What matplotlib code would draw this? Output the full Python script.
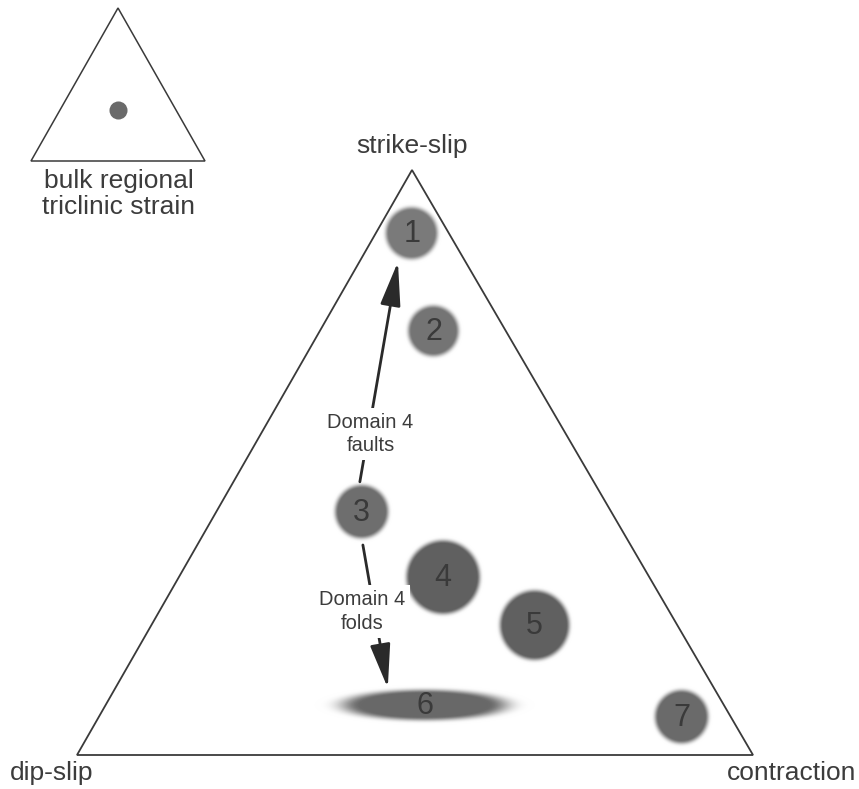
import numpy as np
import matplotlib
matplotlib.use("Agg")
import matplotlib.pyplot as plt
from matplotlib.patches import Polygon, FancyArrowPatch

# ---------------- data (ternary fractions: strike-slip, contraction; dip-slip = rest)
corner_labels = ["strike-slip", "dip-slip", "contraction"]
domain_names = ["1", "2", "3", "4", "5", "6", "7"]
domain_strike = [0.892, 0.725, 0.416, 0.304, 0.222, 0.0855, 0.0655]
domain_contr = [0.053, 0.168, 0.215, 0.391, 0.567, 0.472, 0.862]
# spread of each field (semi-axes, fraction of triangle side)
domain_spread_x = [0.040, 0.039, 0.041, 0.056, 0.053, 0.130, 0.041]
domain_spread_y = [0.040, 0.039, 0.041, 0.056, 0.053, 0.024, 0.041]
domain_shade = ["#7a7a7a", "#747474", "#6e6e6e", "#606060", "#606060", "#686868", "#6a6a6a"]

arrow_labels = ["Domain 4\nfaults", "Domain 4\nfolds"]
arrow_start_strike = [0.467, 0.359]
arrow_start_contr = [0.187, 0.245]
arrow_end_strike = [0.843, 0.1145]
arrow_end_contr = [0.057, 0.403]
label_strike = [0.549, 0.245]
label_contr = [0.162, 0.300]

bulk_title = "bulk regional\ntriclinic strain"
bulk_strike = [1 / 3]
bulk_contr = [1 / 3]

# ---------------- layout
W, H = 859, 789
big_tri = dict(left=(77, 755), right=(753, 755), top=(412, 170))
small_tri = dict(left=(31, 161), right=(205, 161), top=(118, 8))


def tern(tri, s, c):
    s = np.asarray(s, float)
    c = np.asarray(c, float)
    d = 1 - s - c
    L, R, T = np.array(tri["left"]), np.array(tri["right"]), np.array(tri["top"])
    x = d * L[0] + c * R[0] + s * T[0]
    y = d * L[1] + c * R[1] + s * T[1]
    return x, y


fig = plt.figure(figsize=(W / 100, H / 100), dpi=100)
ax = fig.add_axes([0, 0, 1, 1])
ax.set_xlim(0, W)
ax.set_ylim(H, 0)
ax.axis("off")

line_col = "#3a3a3a"
text_col = "#3c3c3c"
font = "Liberation Sans"

# triangles
for tri, lw in ((big_tri, 1.3), (small_tri, 1.1)):
    ax.add_patch(Polygon([tri["left"], tri["right"], tri["top"]], closed=True,
                         fill=False, ec=line_col, lw=lw, joinstyle="miter", zorder=2))

# soft blobs rendered as an image
side = big_tri["right"][0] - big_tri["left"][0]
xs = np.arange(W) + 0.5
ys = np.arange(H) + 0.5
X, Y = np.meshgrid(xs, ys)
rgb = np.ones((H, W, 3))
alpha_tot = np.zeros((H, W))
cx, cy = tern(big_tri, domain_strike, domain_contr)
for i in range(len(domain_names)):
    a = domain_spread_x[i] * side
    b = domain_spread_y[i] * side
    d = np.sqrt(((X - cx[i]) / a) ** 2 + ((Y - cy[i]) / b) ** 2)
    edge = (1 - d) * min(a, b)  # approx distance to edge in px
    blur = 9.0
    al = np.clip(edge / blur + 0.5, 0, 1)
    al = al * al * (3 - 2 * al)
    col = np.array(matplotlib.colors.to_rgb(domain_shade[i]))
    rgb = rgb * (1 - al[..., None]) + col * al[..., None]
    alpha_tot = alpha_tot + al * (1 - alpha_tot)
img = np.dstack([rgb, alpha_tot])
ax.imshow(img, extent=(0, W, H, 0), origin="upper", interpolation="bilinear", zorder=3)

for i, name in enumerate(domain_names):
    ax.text(cx[i], cy[i] + 1, name, ha="center", va="center", fontsize=22,
            color="#3a3a3a", family=font, zorder=4)

# bulk strain dot
bx, by = tern(small_tri, bulk_strike, bulk_contr)
ax.plot(bx, by, "o", ms=13, color="#6a6a6a", mec="none", zorder=4)

# arrows
sx, sy = tern(big_tri, arrow_start_strike, arrow_start_contr)
ex, ey = tern(big_tri, arrow_end_strike, arrow_end_contr)
lx, ly = tern(big_tri, label_strike, label_contr)
for i in range(len(arrow_labels)):
    arr = FancyArrowPatch((sx[i], sy[i]), (ex[i], ey[i]),
                          arrowstyle="-|>,head_length=2.7,head_width=0.62",
                          mutation_scale=10, lw=2.0, color="#2a2a2a",
                          shrinkA=0, shrinkB=0, zorder=5)
    ax.add_patch(arr)
    ax.text(lx[i], ly[i], arrow_labels[i], ha="center", va="center", fontsize=14.5,
            color=text_col, family=font, linespacing=1.3, zorder=6,
            bbox=dict(boxstyle="square,pad=0.25", fc="white", ec="none"))

# corner labels
tx, ty = big_tri["top"]
ax.text(tx, ty - 24, corner_labels[0], ha="center", va="center", fontsize=19,
        color=text_col, family=font)
ax.text(10, 773, corner_labels[1], ha="left", va="center", fontsize=19,
        color=text_col, family=font)
ax.text(856, 773, corner_labels[2], ha="right", va="center", fontsize=19,
        color=text_col, family=font)

# small triangle caption
stx = (small_tri["left"][0] + small_tri["right"][0]) / 2
ax.text(stx + 1, small_tri["left"][1] + 33, bulk_title, ha="center", va="center",
        fontsize=19, color=text_col, family=font, linespacing=1.12)

fig.savefig("out.png", dpi=100, facecolor="white")
